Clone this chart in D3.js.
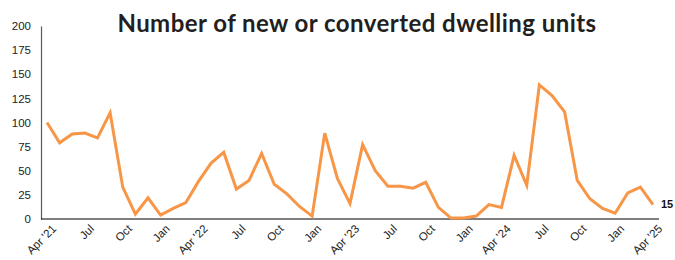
<!DOCTYPE html>
<html>
<head>
<meta charset="utf-8">
<script src="https://cdn.jsdelivr.net/npm/d3@7"></script>
<style>
  body { margin: 0; background: #fff; }
  svg { display: block; }
</style>
</head>
<body>
<div id="chart"></div>
<script>
// monthly, Apr '21 .. Apr '25
const months = d3.range(49).map(i => new Date(2021, 3 + i, 1));
const units = [
  100, 79, 88, 89, 84, 110, 33, 5, 22, 4, 11, 17,
  39, 58, 69, 31, 40, 68, 36, 26, 13, 3, 89, 42,
  16, 77, 50, 34, 34, 32, 38, 12, 1, 1, 3, 15,
  12, 66, 35, 139, 128, 111, 40, 21, 11, 6, 27, 33,
  15
];
const yTicks = [0, 25, 50, 75, 100, 125, 150, 175, 200];
const title = 'Number of new or converted dwelling units';

const width = 675, height = 260;
const margin = { top: 26, right: 22, bottom: 41, left: 41 };

const svg = d3.select('#chart')
  .append('svg')
  .attr('width', width)
  .attr('height', height);

const x = d3.scaleLinear()
  .domain([0, months.length - 1])
  .range([margin.left + 6, width - margin.right]);

const y = d3.scaleLinear()
  .domain([0, 200])
  .range([height - margin.bottom, margin.top]);

const fmt = d => {
  const m = d.getMonth();
  if (m === 3) return "Apr '" + String(d.getFullYear()).slice(2);
  return d3.timeFormat('%b')(d);
};

// title
svg.append('text')
  .attr('x', 357)
  .attr('y', 31.5)
  .attr('text-anchor', 'middle')
  .style('font-family', 'Lato, sans-serif')
  .style('font-weight', 700)
  .style('font-size', '24px')
  .style('letter-spacing', '0.45px')
  .style('fill', '#231f20')
  .text(title);

// y axis
const yAxis = svg.append('g')
  .attr('transform', `translate(${margin.left},0)`)
  .call(d3.axisLeft(y).tickValues(yTicks).tickSize(0).tickPadding(10));
yAxis.select('.domain').attr('stroke', '#595959').attr('stroke-width', 1.2);
yAxis.selectAll('text')
  .style('font-family', '"Liberation Sans", Arial, sans-serif')
  .style('font-size', '11.5px')
  .style('fill', '#222');

// x axis
const xAxis = svg.append('g')
  .attr('transform', `translate(0,${y(0)})`)
  .call(d3.axisBottom(x)
    .tickValues(d3.range(0, months.length, 3))
    .tickSize(0)
    .tickFormat(i => fmt(months[i])));
xAxis.select('.domain')
  .attr('d', `M${margin.left},0H${width - 16}`)
  .attr('stroke', '#000')
  .attr('stroke-width', 1.2);
xAxis.selectAll('text')
  .style('font-family', '"Liberation Sans", Arial, sans-serif')
  .style('font-size', '11.5px')
  .style('fill', '#222')
  .attr('text-anchor', 'end')
  .attr('dx', '0.3em')
  .attr('dy', '0.6em')
  .attr('transform', 'translate(0,6) rotate(-45)');

// line
const line = d3.line()
  .x((d, i) => x(i))
  .y(d => y(d));

svg.append('path')
  .datum(units)
  .attr('fill', 'none')
  .attr('stroke', '#f79646')
  .attr('stroke-width', 3)
  .attr('stroke-linejoin', 'miter')
  .attr('d', line);

// last value label
const last = units.length - 1;
svg.append('text')
  .attr('x', x(last) + 8)
  .attr('y', y(units[last]))
  .attr('dy', '0.35em')
  .style('font-family', '"Liberation Sans", Arial, sans-serif')
  .style('font-weight', 700)
  .style('font-size', '11px')
  .style('fill', '#111')
  .text(units[last]);
</script>
</body>
</html>
